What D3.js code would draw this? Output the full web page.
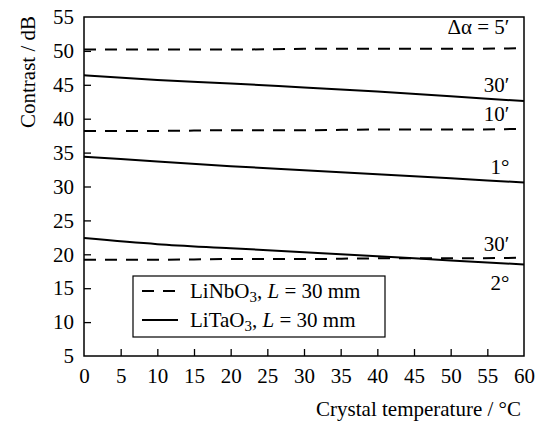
<!DOCTYPE html>
<html>
<head>
<meta charset="utf-8">
<script src="https://cdn.jsdelivr.net/npm/d3@7"></script>
<style>
  body { margin: 0; background: #fff; }
  svg text { font-family: "Liberation Serif", "DejaVu Serif", serif; fill: #000; }
</style>
</head>
<body>
<div id="chart"></div>
<script>
// temperatures (deg C)
var temps = [0, 10, 20, 30, 40, 50, 60];

// LiNbO3 (dashed)
var nb5min = [50.2, 50.2, 50.2, 50.3, 50.3, 50.3, 50.4];
var nb10min = [38.2, 38.2, 38.3, 38.3, 38.4, 38.4, 38.5];
var nb30min = [19.2, 19.2, 19.3, 19.3, 19.4, 19.4, 19.5];

// LiTaO3 (solid)
var ta30min = [46.4, 45.7, 45.2, 44.6, 44.0, 43.3, 42.6];
var ta1deg = [34.4, 33.7, 33.0, 32.4, 31.8, 31.2, 30.6];
var ta2deg = [22.4, 21.5, 20.9, 20.3, 19.7, 19.1, 18.5];

var xTicks = d3.range(0, 61, 5);
var yTicks = d3.range(5, 56, 5);

var serif = "'Liberation Serif', 'DejaVu Serif', serif";
var fs = 21;
var width = 539, height = 425;
var margin = { top: 17, right: 15, bottom: 69, left: 84 };
var innerWidth = width - margin.left - margin.right,
    innerHeight = height - margin.top - margin.bottom;

var svg = d3.select("#chart").append("svg")
    .attr("width", width)
    .attr("height", height)
    .attr("font-family", serif);

var g = svg.append("g")
    .attr("transform", "translate(" + margin.left + "," + margin.top + ")");

var xScale = d3.scaleLinear().domain([0, 60]).range([0, innerWidth]);
var yScale = d3.scaleLinear().domain([5, 55]).range([innerHeight, 0]);

// frame
g.append("rect")
    .attr("width", innerWidth)
    .attr("height", innerHeight)
    .attr("fill", "none")
    .attr("stroke", "#000")
    .attr("stroke-width", 1.5);

// axes, inward ticks
var xAxis = g.append("g")
    .attr("transform", "translate(0," + innerHeight + ")")
    .call(d3.axisBottom(xScale).tickValues(xTicks).tickSizeInner(-7).tickSizeOuter(0).tickPadding(12));
var yAxis = g.append("g")
    .call(d3.axisLeft(yScale).tickValues(yTicks).tickSizeInner(-7).tickSizeOuter(0).tickPadding(10));

[xAxis, yAxis].forEach(function(a) {
    a.attr("font-family", serif).attr("font-size", fs);
    a.select(".domain").remove();
    a.selectAll("line").attr("stroke-width", 1.3);
    a.selectAll("text").attr("fill", "#000");
});
xAxis.selectAll(".tick").filter(function(d) { return d === 0 || d === 60; }).select("line").remove();
yAxis.selectAll(".tick").filter(function(d) { return d === 5 || d === 55; }).select("line").remove();

var line = d3.line()
    .x(function(d, i) { return xScale(temps[i]); })
    .y(function(d) { return yScale(d); })
    .curve(d3.curveMonotoneX);

[nb5min, nb10min, nb30min].forEach(function(s) {
    g.append("path").datum(s)
        .attr("d", line)
        .attr("fill", "none")
        .attr("stroke", "#000")
        .attr("stroke-width", 2)
        .attr("stroke-dasharray", "12,9");
});
[ta30min, ta1deg, ta2deg].forEach(function(s) {
    g.append("path").datum(s)
        .attr("d", line)
        .attr("fill", "none")
        .attr("stroke", "#000")
        .attr("stroke-width", 2);
});

// curve labels
var labels = [
    { t: "Δα = 5′", x: 58.0, y: 52.5 },
    { t: "30′", x: 58.0, y: 43.9 },
    { t: "10′", x: 58.0, y: 39.6 },
    { t: "1°", x: 58.0, y: 31.9 },
    { t: "30′", x: 58.0, y: 20.5 },
    { t: "2°", x: 58.0, y: 14.8 }
];
g.selectAll(".clabel").data(labels).enter().append("text")
    .attr("class", "clabel")
    .attr("x", function(d) { return xScale(d.x); })
    .attr("y", function(d) { return yScale(d.y); })
    .attr("text-anchor", "end")
    .attr("font-size", fs)
    .text(function(d) { return d.t; });

// legend
var leg = g.append("g").attr("transform", "translate(" + (133 - margin.left) + "," + (276 - margin.top) + ")");
leg.append("rect")
    .attr("width", 252).attr("height", 61)
    .attr("fill", "#fff").attr("stroke", "#000").attr("stroke-width", 1.2);
var items = [
    { name: "LiNbO", dash: "12,9", y: 15 },
    { name: "LiTaO", dash: null, y: 44 }
];
items.forEach(function(it) {
    leg.append("line")
        .attr("x1", 9).attr("x2", 45)
        .attr("y1", it.y).attr("y2", it.y)
        .attr("stroke", "#000").attr("stroke-width", 2)
        .attr("stroke-dasharray", it.dash);
    var t = leg.append("text")
        .attr("x", 57).attr("y", it.y + 7)
        .attr("font-size", fs);
    t.append("tspan").text(it.name);
    t.append("tspan").attr("dy", 4).attr("font-size", 15).text("3");
    t.append("tspan").attr("dy", -4).text(", ");
    t.append("tspan").attr("font-style", "italic").text("L");
    t.append("tspan").text(" = 30 mm");
});

// axis titles
svg.append("text")
    .attr("transform", "translate(35,72) rotate(-90)")
    .attr("text-anchor", "middle")
    .attr("font-size", fs)
    .text("Contrast / dB");

svg.append("text")
    .attr("x", 521)
    .attr("y", 416)
    .attr("text-anchor", "end")
    .attr("font-size", fs)
    .text("Crystal temperature / °C");
</script>
</body>
</html>
